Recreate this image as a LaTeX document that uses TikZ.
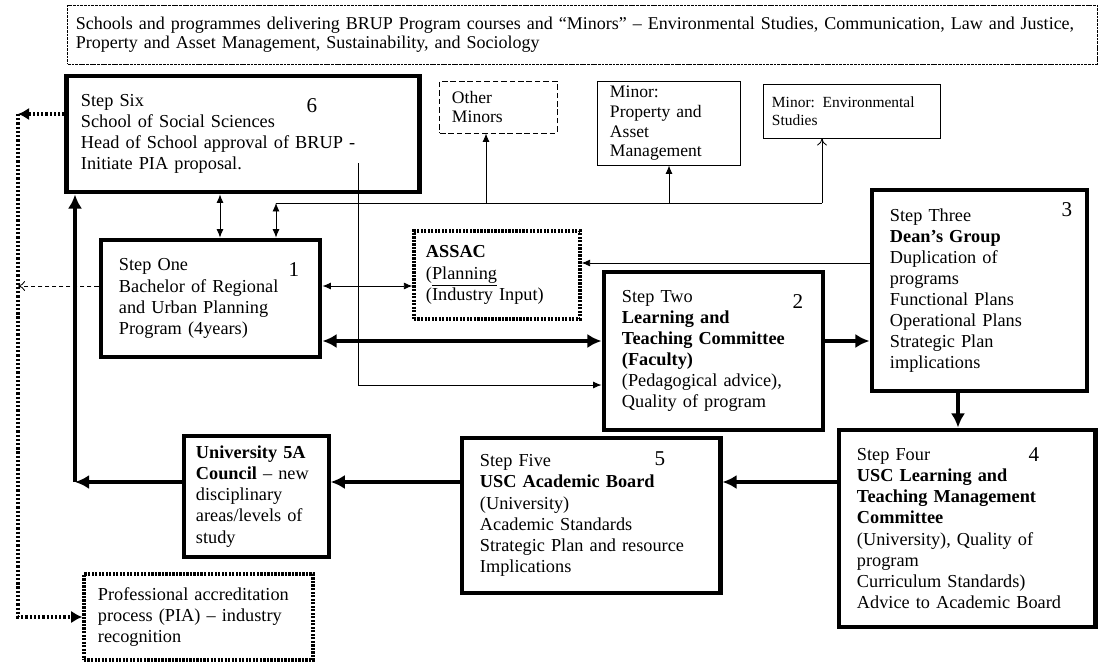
\documentclass[tikz,border=0pt]{standalone}
\usepackage{fontspec}
\setmainfont{Liberation Serif}
\usetikzlibrary{arrows.meta,calc}
\newcommand{\stepfont}{\fontsize{13}{15}\selectfont\hyphenpenalty=10000}
\newcommand{\minorfont}{\fontsize{12.5}{14}\selectfont\hyphenpenalty=10000}
\newcommand{\bannerfont}{\fontsize{12.8}{13.6}\selectfont\hyphenpenalty=10000}
\tikzset{
  stepbox/.style={draw, line width=3.5pt, inner xsep=0.45cm, inner ysep=2pt, align=left, font=\stepfont},
  minorbox/.style={draw, line width=0.7pt, inner xsep=0.3cm, inner ysep=2pt, align=left, font=\minorfont},
  dotbox/.style={draw, line width=2.4pt, dash pattern=on 1.6pt off 0.9pt, inner xsep=0.35cm, align=left, font=\stepfont},
  stepnum/.style={font=\fontsize{15}{15}\selectfont, inner sep=0pt},
  thinline/.style={line width=0.6pt},
  thickline/.style={line width=2.8pt},
  thin tip/.style={-{Latex[length=6pt,width=5pt]}},
  thick tip/.style={-{Latex[length=10pt,width=10pt]}}
}
\begin{document}
\begin{tikzpicture}[x=0.025cm,y=-0.025cm]
\useasboundingbox (0,0) rectangle (1100,665);
% top banner
\node[draw, line width=0.6pt, dash pattern=on 2pt off 0.6pt, inner xsep=0.2cm, align=left, font=\bannerfont,
  text width=25.325cm, minimum height=1.475cm] (banner) at (582.5,34.5)
  {Schools and programmes delivering BRUP Program courses and “Minors” – Environmental Studies, Communication, Law and Justice,\\
   Property and Asset Management, Sustainability, and Sociology};
% minors
\node[minorbox, dash pattern=on 4pt off 2pt, text width=2.325cm, minimum height=1.3cm] (otherminors) at (498.5,107) {Other\\Minors};
\node[minorbox, text width=2.95cm, minimum height=2.075cm] (property) at (669,123.5) {Minor:\\Property and\\Asset\\Management};
\node[minorbox, inner xsep=0.2cm, font=\fontsize{11}{13}\selectfont, text width=4.0cm, minimum height=1.35cm] (environ) at (852,111) {Minor: Environmental\\Studies};
% steps
\node[stepbox, inner xsep=0.35cm, text width=8.1cm, minimum height=2.9cm] (stepsix) at (243,134)
  {Step Six\\School of Social Sciences\\Head of School approval of BRUP -\\Initiate PIA proposal.};
\node[stepbox, text width=4.575cm, minimum height=2.925cm] (stepone) at (210.5,298.5)
  {Step One\\Bachelor of Regional\\and Urban Planning\\Program (4years)};
\node[dotbox, inner xsep=0.3cm, text width=3.55cm, minimum height=2.2cm] (assac) at (497,275)
  {\textbf{ASSAC}\\(\underline{Planning}\\(Industry Input)};
\node[stepbox, text width=4.575cm, minimum height=3.95cm] (steptwo) at (713.5,351)
  {Step Two\\\textbf{Learning and}\\\textbf{Teaching Committee}\\\textbf{(Faculty)}\\(Pedagogical advice),\\Quality of program};
\node[stepbox, text width=4.475cm, minimum height=5.025cm] (stepthree) at (979.5,290.5)
  {Step Three\\\textbf{Dean’s Group}\\Duplication of\\programs\\Functional Plans\\Operational Plans\\Strategic Plan\\implications};
\node[stepbox, text width=5.5cm, minimum height=4.925cm] (stepfour) at (967,528.5)
  {Step Four\\\textbf{USC Learning and}\\\textbf{Teaching Management}\\\textbf{Committee}\\(University), Quality of\\program\\Curriculum Standards)\\Advice to Academic Board};
\node[stepbox, text width=5.55cm, minimum height=3.875cm] (stepfive) at (591,515.5)
  {Step Five\\\textbf{USC Academic Board}\\(University)\\Academic Standards\\Strategic Plan and resource\\Implications};
\node[stepbox, line width=2.4pt, inner xsep=0.3cm, text width=3.025cm, minimum height=3.025cm] (council) at (256.5,496.5)
  {\textbf{University 5A}\\\textbf{Council} – new\\disciplinary\\areas/levels of\\study};
\node[dotbox, text width=5.025cm, minimum height=2.15cm] (pia) at (198.5,617)
  {Professional accreditation\\process (PIA) – industry\\recognition};
% step numbers
\node[stepnum] (n6) at (312,106) {6};
\node[stepnum] (n1) at (294,270) {1};
\node[stepnum] (n2) at (798,302) {2};
\node[stepnum] (n3) at (1067,210) {3};
\node[stepnum] (n4) at (1034,455) {4};
\node[stepnum] (n5) at (660,459) {5};
% levels and corners
\coordinate (dotcorner) at (18,114);
\coordinate (lvlone) at (0,286);
\coordinate (lvltwo) at (0,341);
\coordinate (lvlassac) at (0,263);
\coordinate (lvlfour) at (0,482);
\coordinate (lvlped) at (0,385);
\coordinate (backcorner) at (75,482);
\coordinate (lnkx) at (220,0);
\coordinate (downx) at (958,0);
\coordinate (minorcorner) at (276,203);
\coordinate (otherx) at (486,203);
\coordinate (minorend) at (822,203);
\coordinate (brup) at (358,163);
% main flow
\draw[thickline, thick tip] (steptwo.east |- lvltwo) -- (stepthree.west |- lvltwo);
\draw[thickline, thick tip] (downx |- stepthree.south) -- (downx |- stepfour.north);
\draw[thickline, thick tip] (stepfour.west |- lvlfour) -- (stepfive.east |- lvlfour);
\draw[thickline, thick tip] (stepfive.west |- lvlfour) -- (council.east |- lvlfour);
\draw[thickline, thick tip] (council.west |- lvlfour) -- (backcorner);
\draw[thickline, thick tip] (backcorner) -- (backcorner |- stepsix.south);
\draw[thickline, {Latex[length=10pt,width=10pt]}-{Latex[length=10pt,width=10pt]}] (stepone.east |- lvltwo) -- (steptwo.west |- lvltwo);
% thin links
\draw[thinline, {Latex[length=6pt,width=5pt]}-{Latex[length=6pt,width=5pt]}] (stepone.east |- lvlone) -- (assac.west |- lvlone);
\draw[thinline, thin tip] (stepthree.west |- lvlassac) -- (assac.east |- lvlassac);
\draw[thinline, {Latex[length=6pt,width=5pt]}-{Latex[length=6pt,width=5pt]}] (lnkx |- stepsix.south) -- (lnkx |- stepone.north);
\draw[thinline, {Latex[length=6pt,width=5pt]}-{Latex[length=6pt,width=5pt]}] (minorcorner |- stepone.north) -- (minorcorner);
\draw[thinline] (minorcorner) -- (minorend);
\draw[thinline, thin tip] (otherx) -- (otherx |- otherminors.south);
\draw[thinline, thin tip] (property.south |- minorcorner) -- (property.south);
\draw[thinline, -{To[length=5pt,width=7pt]}] (minorend) -- (minorend |- environ.south);
\draw[thinline, thin tip] (brup) |- (steptwo.west |- lvlped);
% accreditation route
\draw[thinline, dash pattern=on 3pt off 2pt, -{To[length=5pt,width=7pt]}] (stepone.west |- lvlone) -- (dotcorner |- lvlone);
\draw[line width=2.2pt, dash pattern=on 1.6pt off 1.4pt, -{Latex[length=8pt,width=9pt]}] (stepsix.west |- dotcorner) -- (dotcorner);
\draw[line width=2.2pt, dash pattern=on 1.6pt off 1.4pt, -{Latex[length=8pt,width=9pt]}] (dotcorner) -- (dotcorner |- pia.west) -- (pia.west);
\end{tikzpicture}
\end{document}
